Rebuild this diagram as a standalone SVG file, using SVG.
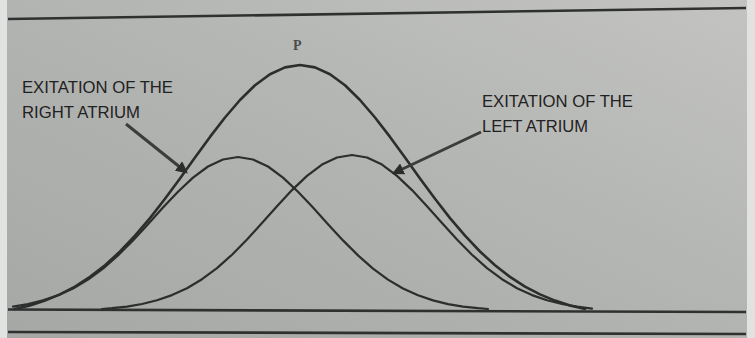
<svg xmlns="http://www.w3.org/2000/svg" width="755" height="338" viewBox="0 0 755 338">
<style>
.curve{fill:none;stroke:#2c2e2d;stroke-width:2.2;stroke-linejoin:round;stroke-linecap:round}
.big{stroke-width:2.6}
.rule{fill:none;stroke:#2f3130;stroke-width:2.6}
.arrow{fill:none;stroke:#3a3d3c;stroke-width:3;marker-end:url(#head)}
.lbl{font-family:"Liberation Sans",Arial,sans-serif;font-size:16px;fill:#1f2122}
.p{font-family:"Liberation Serif",serif;font-size:14px;fill:#4a4c4b;font-weight:bold}
</style>
<defs>
<linearGradient id="bg" x1="0" y1="1" x2="1" y2="0">
<stop offset="0" stop-color="#a6a8a5"/>
<stop offset="0.5" stop-color="#b2b4b1"/>
<stop offset="1" stop-color="#c3c4c1"/>
</linearGradient>
<marker id="head" viewBox="0 0 10 10" refX="8" refY="5" markerWidth="4" markerHeight="4" orient="auto">
<path d="M0,0 L10,5 L0,10 z" fill="#2a2d2c"/>
</marker>
</defs>
<rect x="0" y="0" width="755" height="338" fill="#e2e2e2"/>
<rect x="7" y="0" width="740" height="338" fill="url(#bg)"/>
<g id="frame">
<line class="rule" x1="8" y1="19" x2="746" y2="8"/>
<line class="rule" x1="8" y1="309.5" x2="746" y2="312"/>
<line class="rule" x1="8" y1="332" x2="746" y2="334"/>
</g>
<g id="curves">
<polyline id="p-wave" class="curve big" points="15,309 30,305.4 45,300.6 60,294.4 75,286.6 90,276.9 105,265.3 120,251.5 135,235.7 150,218.1 165,198.8 180,178.4 195,157.5 210,136.9 225,117.5 240,100 255,85.3 270,74.2 285,67.4 300,65 315,67.4 330,74.2 345,85.3 360,100 375,117.5 390,136.9 405,157.5 420,178.4 435,198.8 450,218.1 465,235.7 480,251.5 495,265.3 510,276.9 525,286.6 540,294.4 555,300.6 570,305.4 585,309"/>
<polyline id="right-atrium" class="curve" points="13,306.6 28,304.1 43,300.4 58,295.3 73,288.5 88,279.6 103,268.6 118,255.4 133,240.4 148,224.2 163,207.6 178,191.7 193,177.6 208,166.5 223,159.5 238,157 253,159.5 268,166.5 283,177.6 298,191.7 313,207.6 328,224.2 343,240.4 358,255.4 373,268.6 388,279.6 403,288.5 418,295.3 433,300.4 448,304.1 463,306.6 478,308.2 488,309"/>
<polyline id="left-atrium" class="curve" points="102,309 112,308.2 127,306.6 142,304 157,300.3 172,295.1 187,288.2 202,279.2 217,268.1 232,254.7 247,239.5 262,223.1 277,206.3 292,190.1 307,175.9 322,164.6 337,157.5 352,155 367,157.5 382,164.6 397,175.9 412,190.1 427,206.3 442,223.1 457,239.5 472,254.7 487,268.1 502,279.2 517,288.2 532,295.1 547,300.3 562,304 577,306.6 592,308.6"/>
</g>
<g id="connectors">
<line class="arrow" x1="126" y1="124" x2="186" y2="172"/>
<line class="arrow" x1="481" y1="132" x2="394" y2="173"/>
</g>
<g id="label-p"><text class="p" x="293" y="50">P</text></g>
<g id="label-right">
<text class="lbl" x="22" y="93" textLength="151" lengthAdjust="spacingAndGlyphs">EXITATION OF THE</text>
<text class="lbl" x="22" y="118" textLength="118" lengthAdjust="spacingAndGlyphs">RIGHT ATRIUM</text>
</g>
<g id="label-left">
<text class="lbl" x="482" y="107" textLength="151" lengthAdjust="spacingAndGlyphs">EXITATION OF THE</text>
<text class="lbl" x="482" y="132" textLength="106" lengthAdjust="spacingAndGlyphs">LEFT ATRIUM</text>
</g>
</svg>
